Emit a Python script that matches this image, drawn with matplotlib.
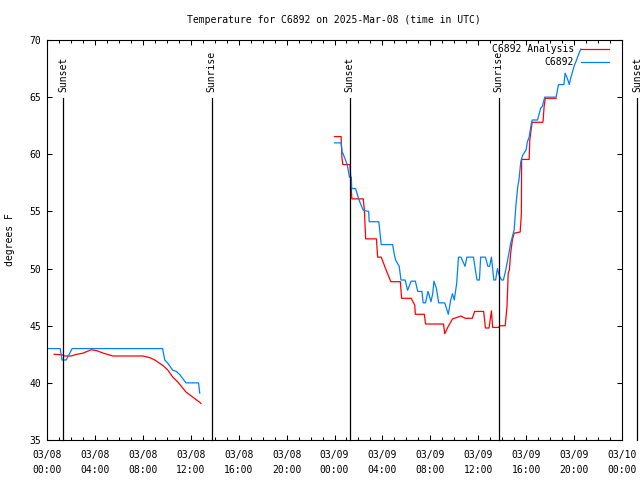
import numpy as np
import pandas as pd
import matplotlib
matplotlib.use('Agg')
import matplotlib.pyplot as plt
import matplotlib.dates as mdates
import matplotlib.transforms as mtransforms

# hours after 2025-03-08 00:00 UTC
obs_hours = [0.05, 1.1, 1.25, 1.6, 2.1, 9.65, 9.83, 10.1, 10.5, 10.8, 11.1, 11.6, 12.65, 12.75,
             np.nan,
             24.0, 24.55, 24.65, 24.7, 25.06, 25.25, 25.4, 25.44, 25.75, 25.85, 26.0, 26.2, 26.4,
             26.85, 26.9, 27.7, 27.9, 28.85, 29.0, 29.1, 29.4, 29.55, 29.9, 30.1, 30.4, 30.75,
             30.95, 31.3, 31.4, 31.6, 31.8, 31.9, 32.05, 32.2, 32.3, 32.5, 32.7, 33.2, 33.5, 33.7,
             33.85, 34.0, 34.1, 34.2, 34.35, 34.55, 34.9, 35.05, 35.6, 35.8, 35.9, 36.1, 36.2,
             36.6, 36.8, 36.95, 37.1, 37.2, 37.3, 37.45, 37.6, 37.75, 37.95, 38.1, 38.3, 38.5,
             38.7, 39.0, 39.15, 39.3, 39.4, 39.55, 39.7, 40.0, 40.1, 40.25, 40.4, 40.5, 40.95,
             41.2, 41.35, 41.55, 42.5, 42.7, 43.15, 43.25, 43.45, 43.6, 43.7, 44.0, 44.15, 44.4,
             44.55]
obs_temp = [43.0, 43.0, 42.0, 42.0, 43.0, 43.0, 42.0, 41.7, 41.1, 41.0, 40.7, 40.0, 40.0, 39.1,
            np.nan,
            61.0, 61.0, 60.1, 60.1, 59.1, 58.0, 58.0, 57.0, 57.0, 56.7, 56.15, 55.6, 55.1,
            55.0, 54.1, 54.1, 52.1, 52.1, 51.2, 50.75, 50.2, 49.0, 49.0, 48.1, 48.9, 48.9,
            48.0, 48.0, 47.0, 47.0, 48.0, 47.7, 47.1, 47.8, 48.9, 48.3, 47.0, 47.0, 46.0, 47.25,
            47.8, 47.25, 48.0, 48.7, 51.0, 51.0, 50.2, 51.0, 51.0, 49.6, 49.0, 49.0, 51.0,
            51.0, 50.2, 50.2, 51.0, 50.0, 49.0, 49.0, 50.0, 49.4, 49.0, 49.0, 49.9, 51.0,
            52.2, 53.4, 55.6, 57.2, 57.75, 59.35, 59.9, 60.4, 61.1, 61.5, 62.5, 63.0, 63.0,
            64.0, 64.2, 65.0, 65.0, 66.1, 66.1, 67.1, 66.6, 66.1, 66.6, 67.7, 68.1, 68.8,
            69.2]

ana_hours = [0.6, 1.3, 1.4, 2.0, 2.5, 3.0, 3.7, 4.2, 4.7, 5.5, 8.0, 8.6, 9.0, 9.7, 10.1, 10.5,
             10.9, 11.6, 12.75, 12.85,
             np.nan,
             24.0, 24.55, 24.62, 24.7, 25.3, 25.35, 25.45, 26.4, 26.5, 26.6, 27.5, 27.6, 27.9,
             28.3, 28.7, 29.5, 29.6, 30.4, 30.7, 30.75, 31.5, 31.6, 33.1, 33.2, 33.45, 33.85,
             34.3, 34.55, 34.9, 35.5, 35.7, 36.45, 36.6, 36.9, 37.1, 37.2, 37.7, 37.8, 38.25,
             38.4, 38.5, 38.6, 38.7, 38.85, 39.0, 39.5, 39.6, 39.62, 40.25, 40.3, 40.5, 41.4,
             41.5, 41.6, 42.5]
ana_temp = [42.5, 42.45, 42.35, 42.35, 42.5, 42.6, 42.9, 42.8, 42.6, 42.35, 42.35, 42.2, 42.0,
            41.5, 41.1, 40.5, 40.1, 39.2, 38.3, 38.2,
            np.nan,
            61.55, 61.55, 59.7, 59.1, 59.1, 57.9, 56.1, 56.1, 55.0, 52.6, 52.6, 51.0, 51.0,
            49.9, 48.85, 48.85, 47.4, 47.4, 46.8, 46.0, 46.0, 45.15, 45.15, 44.3, 44.85, 45.6,
            45.75, 45.85, 45.65, 45.65, 46.25, 46.25, 44.8, 44.8, 46.3, 44.85, 44.85, 45.0, 45.0,
            46.7, 49.6, 49.9, 51.3, 52.5, 53.1, 53.2, 54.8, 59.55, 59.55, 61.25, 62.8, 62.8,
            64.2, 64.9, 64.9]

sun_hours = [1.36, 13.75, 25.27, 37.7, 49.25]
sun_names = ['Sunset', 'Sunrise', 'Sunset', 'Sunrise', 'Sunset']

t0 = mdates.date2num(pd.Timestamp('2025-03-08 00:00'))


def to_time(h):
    # hour offsets -> matplotlib date numbers (NaN keeps the gap)
    return t0 + np.asarray(h, dtype=float) / 24.0


plt.rcParams['font.family'] = 'DejaVu Sans Mono'
plt.rcParams['font.size'] = 7

fig = plt.figure(figsize=(6.4, 4.8), dpi=100)
ax = fig.add_axes([47 / 640, 40 / 480, 575 / 640, 400 / 480])
ax.xaxis_date()

ax.plot(to_time(ana_hours), ana_temp, color='#ff0000', lw=0.9, label='C6892 Analysis')
ax.plot(to_time(obs_hours), obs_temp, color='#0080ff', lw=0.9, label='C6892')

trans = mtransforms.blended_transform_factory(ax.transData, ax.transAxes)
for t, name in zip(to_time(sun_hours), sun_names):
    ax.plot([t, t], [0, 0.855], color='black', lw=0.9, transform=trans, clip_on=False)
    ax.text(t, 0.87, name, rotation=90, ha='center', va='bottom', transform=trans,
            clip_on=False)

ax.set_xlim(t0, t0 + 2.0)
ax.set_ylim(35, 70)
ax.set_yticks(np.arange(35, 71, 5))
ax.xaxis.set_major_locator(mdates.HourLocator(byhour=range(0, 24, 4)))
ax.xaxis.set_minor_locator(mdates.HourLocator())
ax.xaxis.set_major_formatter(mdates.DateFormatter('%m/%d\n%H:%M'))
for lbl in ax.get_xticklabels():
    lbl.set_linespacing(1.6)

ax.tick_params(which='both', direction='in', top=True, right=True, width=0.75)
ax.tick_params(which='major', length=3.5, pad=4)
ax.tick_params(axis='x', which='major', pad=7.5)
ax.tick_params(which='minor', length=2)
for s in ax.spines.values():
    s.set_linewidth(0.8)

leg = ax.legend(loc='upper right', bbox_to_anchor=((609 - 47) / 575, (440 - 44) / 400),
                frameon=False, markerfirst=False, borderpad=0, borderaxespad=0,
                handlelength=2.9, handletextpad=0.7, labelspacing=0.36)

fig.text(334 / 640, 1 - 20 / 480, 'Temperature for C6892 on 2025-Mar-08 (time in UTC)',
         ha='center', va='center')
fig.text(10 / 640, 0.5, 'degrees F', rotation=90, ha='center', va='center')

fig.savefig('out.png', dpi=100)
